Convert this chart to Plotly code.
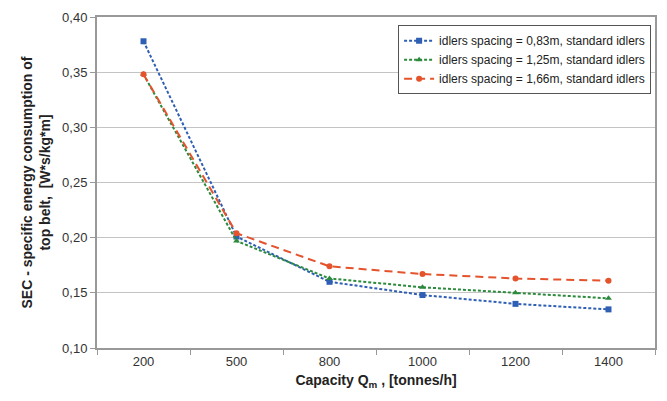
import plotly.graph_objects as go

# Conveyor capacity categories (tonnes/h)
capacity = ["200", "500", "800", "1000", "1200", "1400"]

# Specific energy consumption of top belt [W*s/kg*m]
sec_083 = [0.378, 0.201, 0.160, 0.148, 0.140, 0.135]
sec_125 = [0.348, 0.197, 0.163, 0.155, 0.150, 0.145]
sec_166 = [0.348, 0.204, 0.174, 0.167, 0.163, 0.161]

y_ticks = [0.10, 0.15, 0.20, 0.25, 0.30, 0.35, 0.40]
y_tick_text = ["0,10", "0,15", "0,20", "0,25", "0,30", "0,35", "0,40"]

series = [
    ("idlers spacing = 0,83m, standard idlers", sec_083, "#2f5fb5", "square", "3px,2px"),
    ("idlers spacing = 1,25m, standard idlers", sec_125, "#2c8a3c", "triangle-up", "3px,2px"),
    ("idlers spacing = 1,66m, standard idlers", sec_166, "#e5532d", "circle", "8px,5px"),
]

fig = go.Figure()
for name, vals, color, sym, dash in series:
    fig.add_trace(go.Scatter(
        x=capacity, y=vals, name=name, mode="lines+markers",
        line=dict(color=color, width=2, dash=dash),
        marker=dict(symbol=sym, size=6, color=color),
    ))

fig.update_layout(
    width=667, height=401,
    margin=dict(l=97, r=10, t=14, b=53),
    paper_bgcolor="white", plot_bgcolor="white",
    font=dict(family="Liberation Sans, Arial, sans-serif", size=13, color="#333333"),
    legend=dict(
        x=0.993, y=0.975, xanchor="right", yanchor="top",
        bgcolor="white", bordercolor="#555555", borderwidth=1,
        font=dict(size=12, color="#222222"),
        tracegroupgap=0, itemwidth=30,
    ),
    showlegend=True,
)

fig.update_xaxes(
    type="category", range=[-0.5, 5.5],
    tickson="boundaries", ticks="outside", ticklen=5, tickcolor="#999999",
    showline=True, linecolor="#999999", linewidth=2, mirror=True,
    showgrid=False,
    tickfont=dict(size=13, color="#333333"),
    title=dict(text="<b>Capacity Q<sub>m</sub> , [tonnes/h]</b>", font=dict(size=14, color="#222222"), standoff=8),
)
fig.update_yaxes(
    range=[0.10, 0.40],
    tickvals=y_ticks, ticktext=y_tick_text,
    ticks="outside", ticklen=5, tickcolor="#999999",
    showline=True, linecolor="#999999", linewidth=2, mirror=True,
    showgrid=True, gridcolor="#c4c4c4", gridwidth=1,
    tickfont=dict(size=13, color="#333333"),
    title=dict(text="<b>SEC - specific energy consumption of<br>top belt,  [W*s/kg*m]</b>",
               font=dict(size=14, color="#222222"), standoff=8),
)

fig.write_html("out.html")
